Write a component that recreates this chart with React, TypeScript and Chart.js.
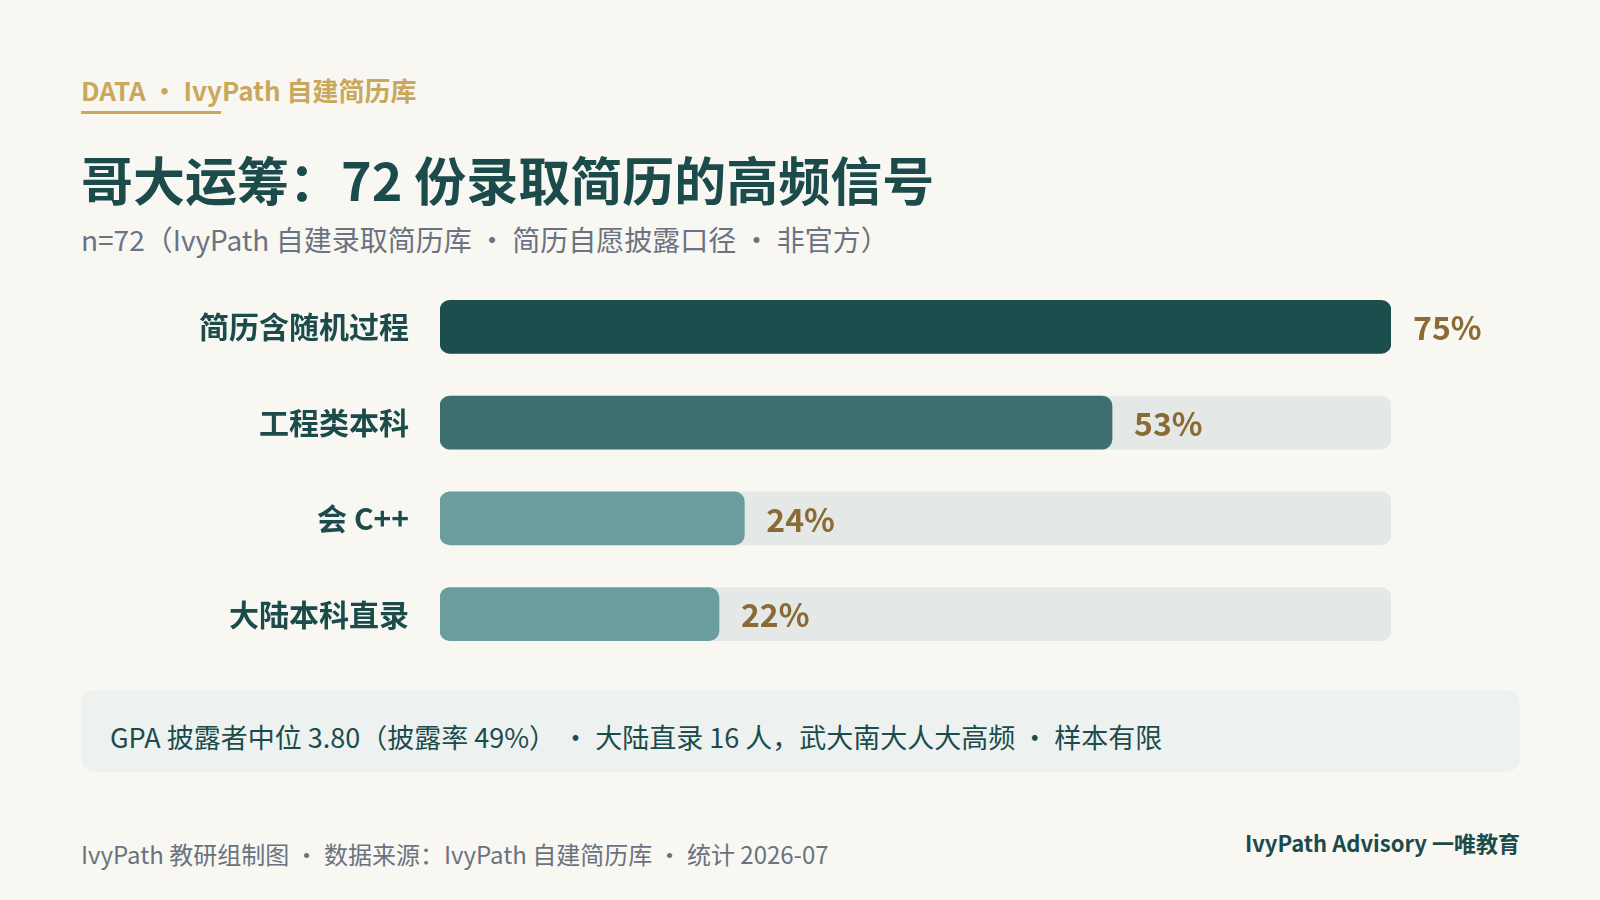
import React, { useEffect, useRef } from 'react';
import { Chart, registerables } from 'chart.js';

Chart.register(...registerables);

// 数据：IvyPath 自建录取简历库（哥大运筹，n=72）
const categories = ['简历含随机过程', '工程类本科', '会 C++', '大陆本科直录'];
const shares = [75, 53, 24, 22];
const trackValues = [75, 75, 75, 75];
const axisMax = 75;

const barColors = ['#1D4E4E', '#3D6F70', '#6B9D9E', '#6B9D9E'];
const FONT = '"Noto Sans CJK SC", "Noto Sans", sans-serif';

const valueLabels = {
  id: 'valueLabels',
  afterDatasetsDraw(chart: Chart) {
    const meta = chart.getDatasetMeta(0);
    const ctx = chart.ctx;
    ctx.save();
    ctx.font = `700 32px ${FONT}`;
    ctx.fillStyle = '#8B6B35';
    ctx.textAlign = 'left';
    ctx.textBaseline = 'middle';
    meta.data.forEach((bar: any, i: number) => {
      ctx.fillText(`${shares[i]}%`, bar.x + 22, bar.y + 1);
    });
    ctx.restore();
  },
};

const SignalChart: React.FC = () => {
  const canvasRef = useRef<HTMLCanvasElement>(null);
  const chartRef = useRef<Chart | null>(null);

  useEffect(() => {
    if (!canvasRef.current) return;
    if (chartRef.current) chartRef.current.destroy();

    const barStyle = {
      grouped: false,
      barThickness: 53,
      borderRadius: 10,
      borderSkipped: false,
    };

    chartRef.current = new Chart(canvasRef.current, {
      type: 'bar',
      data: {
        labels: categories,
        datasets: [
          { ...barStyle, data: shares, backgroundColor: barColors, order: 0 },
          { ...barStyle, data: trackValues, backgroundColor: '#E4E8E6', order: 1 },
        ],
      },
      options: {
        indexAxis: 'y',
        animation: false,
        responsive: true,
        maintainAspectRatio: false,
        layout: { autoPadding: false, padding: { left: 0, right: 209, top: 0, bottom: 0 } },
        scales: {
          x: { display: false, min: 0, max: axisMax },
          y: {
            afterFit: (scale: any) => {
              // fixed label column; no extra vertical padding from the labels
              scale.width = 440;
              scale.paddingTop = 0;
              scale.paddingBottom = 0;
            },
            grid: { display: false, drawTicks: false },
            border: { display: false },
            ticks: {
              color: '#1C4B4B',
              padding: 31,
              font: { family: FONT, size: 30, weight: 'bold' },
            },
          },
        },
        plugins: {
          legend: { display: false },
          tooltip: { enabled: false },
        },
      },
      plugins: [valueLabels],
    } as any);

    return () => {
      if (chartRef.current) {
        chartRef.current.destroy();
        chartRef.current = null;
      }
    };
  }, []);

  return (
    <div style={{ position: 'absolute', left: 0, top: 279, width: 1600, height: 383 }}>
      <canvas ref={canvasRef}></canvas>
    </div>
  );
};

const text = (top: number, size: number, extra: React.CSSProperties = {}): React.CSSProperties => ({
  position: 'absolute',
  top,
  left: 81,
  fontSize: size,
  lineHeight: 1,
  whiteSpace: 'nowrap',
  ...extra,
});

export default function App() {
  return (
    <div
      style={{
        position: 'relative',
        width: 1600,
        height: 900,
        background: '#F8F7F2',
        fontFamily: FONT,
        overflow: 'hidden',
      }}
    >
      <style>{'body{margin:0;}'}</style>
      <div style={text(77, 26, { color: '#C9A85C', fontWeight: 700 })}>DATA · IvyPath 自建简历库</div>
      <div style={{ position: 'absolute', left: 81, top: 111, width: 140, height: 3, background: '#C9A85C' }} />
      <div style={text(153, 52, { color: '#1C4B4B', fontWeight: 700 })}>哥大运筹：72 份录取简历的高频信号</div>
      <div style={text(225, 28, { color: '#6B7280' })}>
        n=72（IvyPath 自建录取简历库 · 简历自愿披露口径 · 非官方）
      </div>

      <SignalChart />

      <div
        style={{
          position: 'absolute',
          left: 81,
          top: 690,
          width: 1439,
          height: 82,
          background: '#EDF2F1',
          borderRadius: 14,
        }}
      />
      <div style={text(723, 27, { left: 110, color: '#1C4B4B' })}>
        GPA 披露者中位 3.80（披露率 49%） · 大陆直录 16 人，武大南大人大高频 · 样本有限
      </div>

      <div style={text(842, 24, { color: '#6B7280' })}>
        IvyPath 教研组制图 · 数据来源：IvyPath 自建简历库 · 统计 2026-07
      </div>
      <div style={text(831, 22, { left: 'auto', right: 80, color: '#1C4B4B', fontWeight: 700 })}>
        IvyPath Advisory 一唯教育
      </div>
    </div>
  );
}
